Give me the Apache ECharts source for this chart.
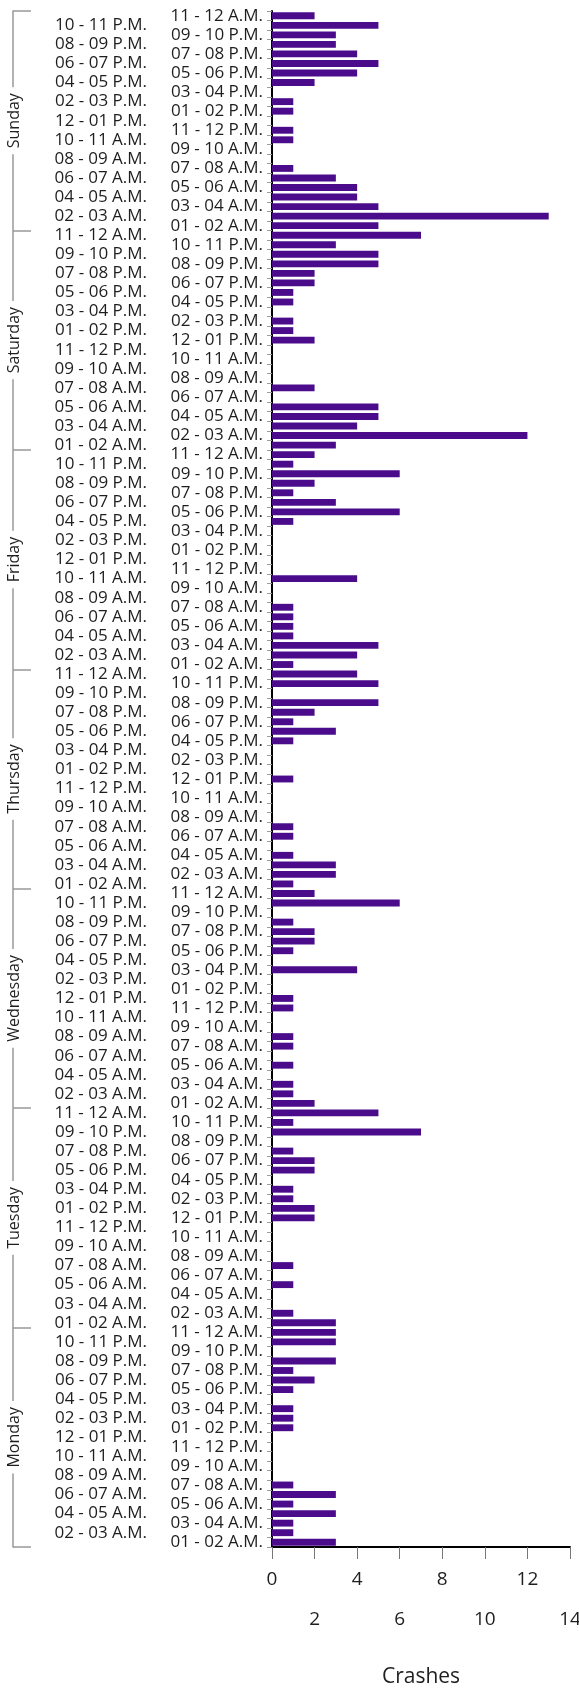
<!DOCTYPE html>
<html>
<head>
<meta charset="utf-8">
<script src="https://cdn.jsdelivr.net/npm/echarts@6/dist/echarts.min.js"></script>
<style>
html,body{margin:0;padding:0;background:#fff;}
#chart{width:579px;height:1690px;}
</style>
</head>
<body>
<div id="chart"></div>
<script>
// Days, top to bottom
const days = ['Sunday','Saturday','Friday','Thursday','Wednesday','Tuesday','Monday'];
// Hour bands within each day, top to bottom
const hours = ['11 - 12 A.M.','10 - 11 P.M.','09 - 10 P.M.','08 - 09 P.M.','07 - 08 P.M.','06 - 07 P.M.',
  '05 - 06 P.M.','04 - 05 P.M.','03 - 04 P.M.','02 - 03 P.M.','01 - 02 P.M.','12 - 01 P.M.',
  '11 - 12 P.M.','10 - 11 A.M.','09 - 10 A.M.','08 - 09 A.M.','07 - 08 A.M.','06 - 07 A.M.',
  '05 - 06 A.M.','04 - 05 A.M.','03 - 04 A.M.','02 - 03 A.M.','01 - 02 A.M.'];
// Crashes per hour band (same order as hours)
const sunday    = [2,5,3,3,4,5,4,2,0,1,1,0,1,1,0,0,1,3,4,4,5,13,5];
const saturday  = [7,3,5,5,2,2,1,1,0,1,1,2,0,0,0,0,2,0,5,5,4,12,3];
const friday    = [2,1,6,2,1,3,6,1,0,0,0,0,0,4,0,0,1,1,1,1,5,4,1];
const thursday  = [4,5,0,5,2,1,3,1,0,0,0,1,0,0,0,0,1,1,0,1,3,3,1];
const wednesday = [2,6,0,1,2,2,1,0,4,0,0,1,1,0,0,1,1,0,1,0,1,1,2];
const tuesday   = [5,1,7,0,1,2,2,0,1,1,2,2,0,0,0,0,1,0,1,0,0,1,3];
const monday    = [3,3,0,3,1,2,1,0,1,1,1,0,0,0,0,0,1,3,1,3,1,1,3];
const xTicks = [0,2,4,6,8,10,12,14];
const xName = 'Crashes';

const perDay = [sunday, saturday, friday, thursday, wednesday, tuesday, monday];
const categories = [];
days.forEach(d => hours.forEach(h => categories.push(d + '|' + h)));
const values = [].concat(...perDay);

const FONT = '"Open Sans", "Liberation Sans", sans-serif';
const TXT = '#1e1e1e';

const chart = echarts.init(document.getElementById('chart'), null, {renderer: 'canvas'});
chart.setOption({
  animation: false,
  backgroundColor: '#fff',
  grid: {left: 272, right: 9, top: 11, bottom: 143, containLabel: false, outerBoundsMode: 'none'},
  xAxis: [
    {
      type: 'value', min: xTicks[0], max: xTicks[xTicks.length - 1], interval: xTicks[1] - xTicks[0],
      position: 'bottom',
      name: xName, nameLocation: 'middle', nameGap: 120,
      nameTextStyle: {fontFamily: FONT, fontSize: 21, color: TXT},
      axisLine: {show: true, lineStyle: {color: '#000', width: 2}},
      axisTick: {show: true, length: 12, lineStyle: {color: '#777', width: 1}},
      splitLine: {show: false},
      axisLabel: {margin: 23, fontFamily: FONT, fontSize: 19, color: TXT,
        formatter: v => (v % 4 === 0 ? String(v) : '')}
    },
    {
      type: 'value', min: xTicks[0], max: xTicks[xTicks.length - 1], interval: xTicks[1] - xTicks[0],
      position: 'bottom',
      axisLine: {show: false}, axisTick: {show: false}, splitLine: {show: false},
      axisLabel: {margin: 63, fontFamily: FONT, fontSize: 19, color: TXT,
        formatter: v => (v % 4 === 2 ? String(v) : '')}
    }
  ],
  yAxis: [
    {
      type: 'category', data: categories, inverse: true, position: 'left',
      axisLine: {show: true, lineStyle: {color: '#000', width: 2}},
      axisTick: {show: true, interval: 0, length: 5, lineStyle: {color: '#999'}},
      axisLabel: {interval: i => i % 2 === 0, margin: 9, fontFamily: FONT, fontSize: 17, color: TXT,
        formatter: v => v.split('|')[1]}
    },
    {
      type: 'category', data: categories, inverse: true, position: 'left',
      axisLine: {show: false}, axisTick: {show: false}, splitLine: {show: false},
      axisLabel: {interval: i => i % 2 === 1, margin: 125, fontFamily: FONT, fontSize: 17, color: TXT,
        formatter: v => v.split('|')[1]}
    },
    {
      type: 'category', data: days, inverse: true, position: 'left', offset: 259,
      axisLine: {show: true, lineStyle: {color: '#999', width: 1.5}},
      axisTick: {show: true, inside: true, length: 18, lineStyle: {color: '#999', width: 1.5}},
      splitLine: {show: false},
      axisLabel: {rotate: 90, margin: -9, fontFamily: FONT, fontSize: 16, color: TXT,
        backgroundColor: '#fff', padding: [0, 6]}
    }
  ],
  series: [{
    type: 'bar', xAxisIndex: 0, yAxisIndex: 0, data: values,
    barCategoryGap: '28%',
    itemStyle: {color: '#4B0C8C'}
  }]
});
</script>
</body>
</html>
